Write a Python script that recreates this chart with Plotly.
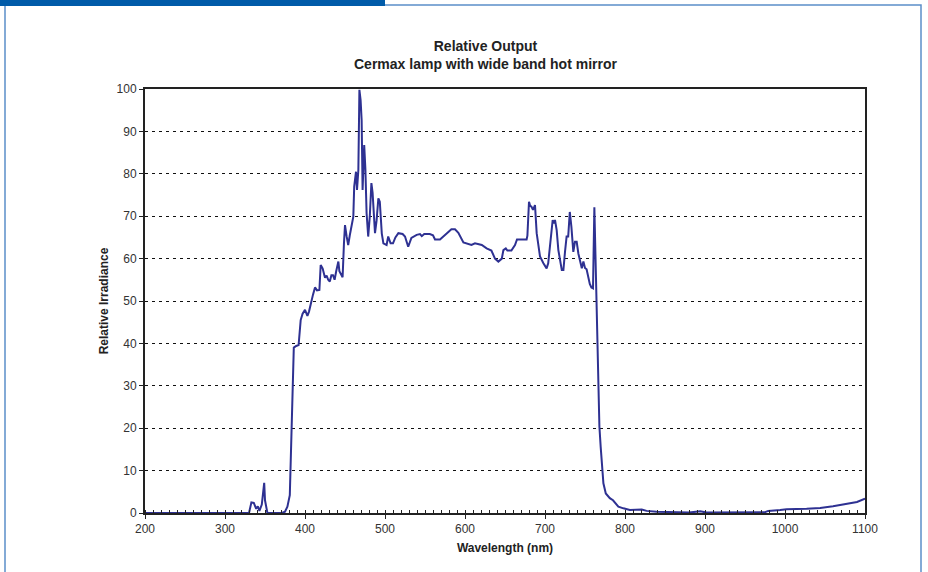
import plotly.graph_objects as go

wavelength_nm = [200, 330, 333, 336, 339, 341, 343, 346, 349, 350, 353, 371, 375, 378, 381, 383, 384, 385, 386, 389, 392,
    394.6, 397, 400, 403, 405, 408, 410, 412.5, 415, 418, 419.6, 422, 425, 427, 429, 431, 433, 435, 437, 439,
    441.7, 443, 445.8, 447, 448.7, 450, 452, 454, 456, 459, 460.4, 461.5, 463.75, 465, 466.7, 468, 469.5, 470.8,
    472, 474, 475.5, 477, 479, 481, 483, 484.5, 486, 487.5, 489.5, 491.7, 493.5, 496, 498, 501, 502, 504, 507,
    510, 513, 516.7, 522, 525, 529, 533, 539.6, 543.75, 546, 549, 556, 560, 562.5, 568.75, 577, 583, 587.5,
    591.7, 598, 602, 608, 612.5, 617, 621, 627, 633, 637.5, 641.7, 646, 648, 651, 653, 658, 662.5, 665, 677,
    678, 680, 681.5, 683, 685, 687.5, 689.6, 691.7, 693.75, 698, 702, 704, 706, 709.6, 711, 712.5, 714.6,
    716.7, 721, 723, 725, 727, 729, 731, 733, 735.4, 737.5, 739.6, 741.7, 743.75, 746, 748, 750, 752, 754,
    756, 758, 760, 761.7, 763, 764.5, 766.7, 768, 769.6, 771, 773, 776, 781, 785, 791.7, 798, 806, 821, 827,
    839.6, 864.6, 880, 894, 902, 975, 979, 994, 1002, 1027, 1044, 1060, 1077, 1090, 1100]
relative_irradiance = [0, 0, 2.5, 2.4, 1.0, 1.6, 0.5, 2.0, 7.1, 3, 0, 0, 0.3, 1.5, 4.2, 18, 21, 32, 39, 39.4, 39.6,
    45.5, 47, 47.9, 46.5, 47.5, 50.2, 51.5, 53.2, 52.5, 52.6, 58.5, 57.7, 55.5, 56.0, 55, 54.6, 56.1, 56.1, 55, 57,
    59.3, 57, 56.1, 55.6, 63.6, 67.9, 65.3, 63.2, 65.5, 68, 69.9, 77, 80.5, 76.2, 80.9, 99.8, 97.4, 92.7,
    76.2, 86.8, 81, 70.7, 65.2, 70, 77.8, 75.5, 69.1, 66, 69, 74.2, 73.4, 65.9, 63.6, 63.4, 63.2, 65.2, 63.6,
    63.6, 65, 66, 65.8, 65.2, 62.8, 64.9, 65.6, 65.8, 65.3, 65.8, 65.8, 65.5, 64.5, 64.5, 65.8, 66.9, 66.9,
    66.1, 63.8, 63.6, 63.2, 63.6, 63.4, 63.2, 62.4, 61.9, 60, 59.3, 60, 62, 62.4, 61.9, 61.9, 63.2, 64.5, 64.5,
    65.4, 73.4, 72.4, 72.3, 71.5, 72.6, 66, 63.6, 60.5, 58.9, 57.7, 58.9, 62.8, 69.1, 68.3, 69.1, 66.7,
    62, 57.3, 57.3, 61.6, 65.2, 65.2, 71, 67.5, 61.6, 64, 64, 61.2, 59.3, 57.7, 59.3, 57.8, 57.5, 55.7,
    54, 53.2, 53, 72.1, 60, 50, 31.4, 20.4, 15.6, 10.9, 7, 4.6, 3.5, 3.0, 1.5, 1.1, 0.7, 0.8, 0.5,
    0.3, 0.1, 0.1, 0.4, 0.1, 0.2, 0.5, 0.7, 0.9, 1.0, 1.2, 1.6, 2.2, 2.6, 3.4]

x_ticks = [200, 300, 400, 500, 600, 700, 800, 900, 1000, 1100]
y_ticks = [0, 10, 20, 30, 40, 50, 60, 70, 80, 90, 100]

W, H = 928, 572
L, R, T, B = 145, 865, 89, 513

def px(x):
    return (x - L) / (R - L)

def py(y):
    return (B - y) / (B - T)

fig = go.Figure()
fig.add_trace(go.Scatter(x=wavelength_nm, y=relative_irradiance, mode="lines",
                         line=dict(color="#2e3192", width=2), showlegend=False,
                         hoverinfo="x+y"))

font = "Liberation Sans, Arial, sans-serif"
fig.update_layout(
    width=W, height=H,
    margin=dict(l=L, r=W - R, t=T, b=H - B),
    paper_bgcolor="white", plot_bgcolor="white",
    font=dict(family=font, size=12, color="#333333"),
    xaxis=dict(range=[200, 1100], tickvals=x_ticks, showgrid=False, zeroline=False,
               showline=True, linecolor="#222222", linewidth=2, mirror=True,
               ticks="outside", ticklen=4, tickwidth=1, tickcolor="#222222",
               minor=dict(dtick=10, tick0=200, ticks="inside", ticklen=3, tickwidth=1, tickcolor="#222222", showgrid=False),
               tickfont=dict(size=12, color="#333333"),
               title=dict(text="<b>Wavelength (nm)</b>", font=dict(size=12, color="#222222"), standoff=8)),
    yaxis=dict(range=[0, 100], tickvals=y_ticks, showgrid=True, gridcolor="#111111", gridwidth=1,
               griddash="3px,4px", zeroline=False,
               showline=True, linecolor="#222222", linewidth=2, mirror=True,
               ticks="outside", ticklen=4, tickwidth=1, tickcolor="#222222",
               tickfont=dict(size=12, color="#333333"),
               title=dict(text="<b>Relative Irradiance</b>", font=dict(size=12, color="#222222"), standoff=5)),
    annotations=[
        dict(text="<b>Relative Output</b><br><b>Cermax lamp with wide band hot mirror</b>",
             x=px(485), y=py(55), xref="paper", yref="paper", showarrow=False,
             xanchor="center", yanchor="middle", font=dict(size=14, color="#222222", family=font),
             align="center"),
    ],
    shapes=[
        dict(type="rect", xref="paper", yref="paper", x0=px(5), x1=px(921), y0=py(H + 10), y1=py(5),
             line=dict(color="#5b8fc9", width=1.5), fillcolor="rgba(0,0,0,0)", layer="below"),
        dict(type="rect", xref="paper", yref="paper", x0=px(0), x1=px(385), y0=py(6), y1=py(0),
             line=dict(width=0), fillcolor="#005ba9", layer="above"),
    ],
)

fig.write_html("out.html")
